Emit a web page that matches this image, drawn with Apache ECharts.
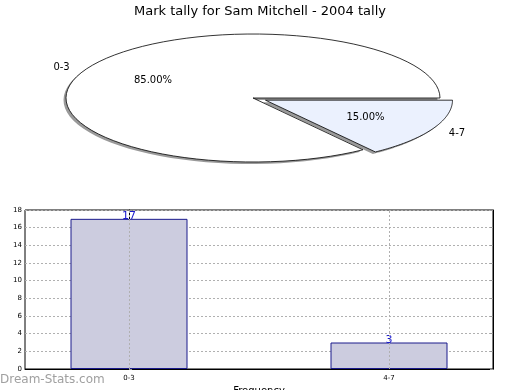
<!DOCTYPE html>
<html><head><meta charset="utf-8">
<script src="https://cdn.jsdelivr.net/npm/echarts@6/dist/echarts.min.js"></script>
<style>html,body{margin:0;padding:0;background:#fff}#c{width:520px;height:390px}</style>
</head><body><div id="c"></div>
<script>
var titleText = 'Mark tally for Sam Mitchell - 2004 tally';
var categories = ['0-3', '4-7'];
var counts = [17, 3];
var explode = [0, 0.075];
var yTicks = { min: 0, max: 18, interval: 2 };

var total = counts.reduce(function (a, b) { return a + b; }, 0);
var FONT = 'DejaVu Sans';
var positions = categories.map(function (c, i) { return i; });

function pieRender(params, api) {
  var idx = params.dataIndex;
  var start = 0;
  for (var i = 0; i < idx; i++) start += counts[i] / total * 360;
  var end = start + counts[idx] / total * 360;
  var mid = (start + end) / 2 * Math.PI / 180;
  var ex = explode[idx];
  var ox = ex * Math.cos(mid), oy = ex * Math.sin(mid);
  var pts = [], sh = [];
  pts.push(api.coord([ox, oy]));
  var n = 80;
  for (var k = 0; k <= n; k++) {
    var a = (start + (end - start) * k / n) * Math.PI / 180;
    pts.push(api.coord([ox + Math.cos(a), oy + Math.sin(a)]));
  }
  for (var j = 0; j < pts.length; j++) sh.push([pts[j][0] - 2.5, pts[j][1] + 2]);
  var lr = 1.1, pr = 0.6;
  var lp = api.coord([ox + lr * Math.cos(mid), oy + lr * Math.sin(mid)]);
  var pp = api.coord([ox + pr * Math.cos(mid), oy + pr * Math.sin(mid)]);
  var pct = (counts[idx] / total * 100).toFixed(2) + '%';
  var fill = idx === 0 ? '#ffffff' : '#ebf1fe';
  return {
    type: 'group',
    children: [
      { type: 'polygon', shape: { points: sh }, style: { fill: '#9a9a9a' }, z2: 1 },
      { type: 'polygon', shape: { points: pts }, style: { fill: fill, stroke: '#000', lineWidth: 0.8 }, z2: 10 },
      { type: 'text', x: lp[0], y: lp[1] + 1, style: { text: categories[idx], fill: '#000', font: '10px ' + FONT,
        align: Math.cos(mid) < 0 ? 'right' : 'left', verticalAlign: 'middle' }, z2: 20 },
      { type: 'text', x: pp[0], y: pp[1], style: { text: pct, fill: '#000', font: '10px ' + FONT,
        align: 'center', verticalAlign: 'middle' }, z2: 20 }
    ]
  };
}

var chart = echarts.init(document.getElementById('c'), null, { renderer: 'canvas' });
chart.setOption({
  animation: false,
  title: { text: titleText, left: 'center', top: 0,
    textStyle: { fontFamily: FONT, fontSize: 13, fontWeight: 'normal', color: '#000' } },
  graphic: [{ type: 'text', left: 0, top: 374, z: 100, style: { text: 'Dream-Stats.com', fill: '#a0a0a0',
    font: '12px ' + FONT } }],
  grid: [
    { left: 66, top: 34, width: 374, height: 128, show: false, containLabel: false, outerBoundsMode: 'none' },
    { left: 25, top: 210, width: 468, height: 159, show: true, borderColor: '#000', borderWidth: 1,
      containLabel: false, outerBoundsMode: 'none' }
  ],
  xAxis: [
    { gridIndex: 0, type: 'value', min: -1, max: 1, show: false },
    { gridIndex: 1, type: 'value', min: -0.4, max: 1.4,
      name: 'Frequency', nameLocation: 'middle', nameGap: 17,
      nameTextStyle: { fontFamily: FONT, fontSize: 10, color: '#000' },
      axisLine: { lineStyle: { color: '#000' } },
      axisTick: { show: false },
      axisLabel: { customValues: positions, fontFamily: FONT, fontSize: 7, color: '#000', margin: 6,
        formatter: function (v) { return categories[Math.round(v)]; } },
      splitLine: { show: false } }
  ],
  yAxis: [
    { gridIndex: 0, type: 'value', min: -1, max: 1, show: false },
    { gridIndex: 1, type: 'value', min: yTicks.min, max: yTicks.max, interval: yTicks.interval,
      name: 'Stat Intervals', nameLocation: 'middle', nameGap: 16, nameRotate: 90,
      nameTextStyle: { fontFamily: FONT, fontSize: 10, color: '#000' },
      axisLine: { show: true, lineStyle: { color: '#000' } },
      axisTick: { show: true, inside: true, length: 3, lineStyle: { color: '#999' } },
      axisLabel: { fontFamily: FONT, fontSize: 7, color: '#000', margin: 3 },
      splitLine: { show: true, lineStyle: { color: '#b0b0b0', type: [2, 2] } } },
    { gridIndex: 1, type: 'value', position: 'right', min: yTicks.min, max: yTicks.max, interval: yTicks.interval,
      axisLine: { show: true, lineStyle: { color: '#000' } },
      axisTick: { show: true, inside: true, length: 3, lineStyle: { color: '#999' } },
      axisLabel: { show: false }, splitLine: { show: false } }
  ],
  series: [
    { type: 'custom', xAxisIndex: 0, yAxisIndex: 0, renderItem: pieRender,
      data: counts.map(function (v, i) { return [i, v]; }), silent: true, clip: false },
    { type: 'bar', xAxisIndex: 1, yAxisIndex: 1,
      data: counts.map(function (v, i) { return [positions[i], v]; }), barWidth: 117,
      itemStyle: { color: '#ccccdf', borderColor: '#1a1a8c', borderWidth: 1 },
      label: { show: true, position: 'top', distance: -3, color: '#1a1acc',
        fontFamily: FONT, fontSize: 11 }, z: 1,
      markLine: { silent: true, symbol: 'none', label: { show: false }, z: 3,
        lineStyle: { color: '#b0b0b0', type: [2, 2], width: 1 },
        data: positions.map(function (p) { return { xAxis: p }; }) } }
  ]
});
</script></body></html>
